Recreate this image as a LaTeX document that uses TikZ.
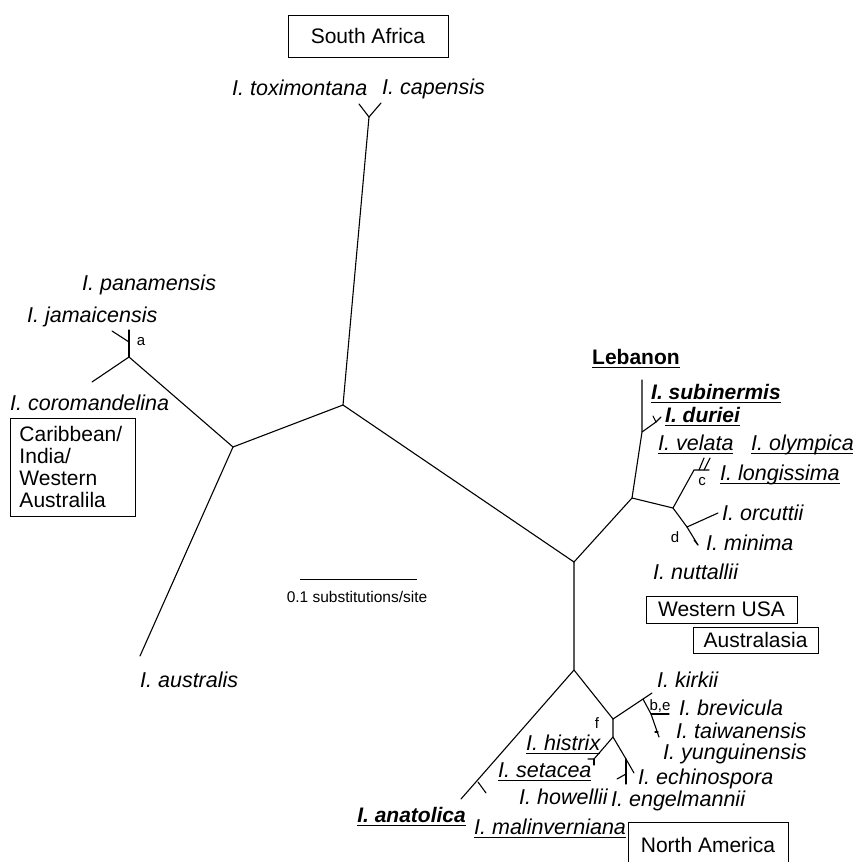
\documentclass[tikz,border=0pt]{standalone}
\usepackage{fontspec}
\setmainfont{Liberation Sans}
\newsavebox\ulbox
\newcommand\ulx[1]{\sbox\ulbox{#1}\rlap{\rule[-3.5pt]{\wd\ulbox}{0.9pt}}\usebox\ulbox}
\begin{document}
\begin{tikzpicture}[x=1pt,y=-1pt,
  br/.style={line width=1.1pt, line cap=round},
  lab/.style={anchor=base west, inner sep=0pt, font=\fontsize{21.5}{24}\selectfont\itshape},
  blab/.style={anchor=base west, inner sep=0pt, font=\fontsize{21}{24}\selectfont\bfseries\itshape},
  sm/.style={inner sep=0pt, font=\fontsize{15}{17}\selectfont},
  region/.style={draw, line width=1pt, inner sep=0pt, font=\fontsize{21}{21.7}\selectfont}]
\path[use as bounding box, clip] (0,0) rectangle (853,862);
\fill[white] (0,0) rectangle (853,862);

% ---------- tree coordinates ----------
\coordinate (C1) at (343,405);
\coordinate (Ysa) at (369,117);
\coordinate (tox) at (359,104);
\coordinate (cap) at (381,103);
\coordinate (L) at (233,447);
\coordinate (aus) at (140,656);
\coordinate (A) at (129,357);
\coordinate (cor) at (92,382);
\coordinate (pan) at (129,330);
\coordinate (jamj) at (129,342);
\coordinate (jam) at (112,331);
\coordinate (R) at (574,562);
\coordinate (Jleb) at (632,498);
\coordinate (Jleb2) at (642,432);
\coordinate (sub) at (642,380);
\coordinate (Jdur) at (656,422);
\coordinate (dur1) at (653,416);
\coordinate (dur2) at (661,417);
\coordinate (Jd) at (673,508);
\coordinate (Jc) at (694,470);
\coordinate (cbar) at (709,470);
\coordinate (vel1) at (699,470);
\coordinate (vel2) at (704,458);
\coordinate (oly1) at (704,470);
\coordinate (oly2) at (710,458);
\coordinate (Jorc) at (687,527);
\coordinate (orc) at (718,513);
\coordinate (min) at (698,545);
\coordinate (mint1) at (694,540);
\coordinate (B) at (574,670);
\coordinate (ana) at (461,799);
\coordinate (anat1) at (478,782);
\coordinate (anat2) at (486,793);
\coordinate (Nf) at (613,719);
\coordinate (K) at (643,699);
\coordinate (kir) at (652,693);
\coordinate (be) at (651,714);
\coordinate (bebar) at (669,714);
\coordinate (tai) at (659,737);
\coordinate (tait) at (655,732);
\coordinate (tait2) at (658,732);
\coordinate (N2) at (613,737);
\coordinate (set) at (594,759);
\coordinate (setbar) at (588,759);
\coordinate (setdn) at (594,765);
\coordinate (N3) at (626,759);
\coordinate (echi) at (634,773);
\coordinate (eng) at (626,784);
\coordinate (howj) at (626,774);
\coordinate (how) at (617,779);

% ---------- branches ----------
\draw[br] (tox) -- (Ysa) -- (cap);
\draw[br] (Ysa) -- (C1) -- (R);
\draw[br] (C1) -- (L) -- (aus);
\draw[br] (L) -- (A) -- (cor);
\draw[br] (A) -- (pan);
\draw[br] (jam) -- (jamj);
\draw[br] (R) -- (Jleb) -- (Jleb2) -- (sub);
\draw[br] (Jleb2) -- (Jdur) -- (dur1);
\draw[br] (Jdur) -- (dur2);
\draw[br] (Jleb) -- (Jd) -- (Jc) -- (cbar);
\draw[br] (vel1) -- (vel2);
\draw[br] (oly1) -- (oly2);
\draw[br] (Jd) -- (Jorc) -- (orc);
\draw[br] (Jorc) -- (min);
\draw[br] (mint1) -- (min);
\draw[br] (R) -- (B) -- (ana);
\draw[br] (anat1) -- (anat2);
\draw[br] (B) -- (Nf) -- (K) -- (kir);
\draw[br] (K) -- (be) -- (tai);
\draw[br] (be) -- (bebar);
\draw[br] (tait) -- (tait2);
\draw[br] (Nf) -- (N2) -- (set) -- (setbar);
\draw[br] (set) -- (setdn);
\draw[br] (N2) -- (N3) -- (echi);
\draw[br] (N3) -- (eng);
\draw[br] (howj) -- (how);

% ---------- scale bar ----------
\coordinate (sb1) at (300,579);
\coordinate (sb2) at (417,579);
\draw[line width=1pt] (sb1) -- (sb2);
\node[sm, font=\fontsize{15.5}{17}\selectfont] (sbl) at (357,597) {0.1 substitutions/site};

% ---------- small labels ----------
\node[sm] (la) at (141,342) {a};
\node[sm] (lc) at (702,482) {c};
\node[sm] (ld) at (675,537) {d};
\node[sm] (lf) at (597,723) {f};
\node[sm] (lbe) at (660,706) {b,e};

% ---------- taxon labels ----------
\node[lab] (t1) at (232,95) {I. toximontana};
\node[lab] (t2) at (382,94) {I. capensis};
\node[lab] (t3) at (82,290) {I. panamensis};
\node[lab] (t4) at (27,322) {I. jamaicensis};
\node[lab] (t5) at (10,410) {I. coromandelina};
\node[lab] (t6) at (140,687) {I. australis};
\node[anchor=base west, inner sep=0pt, font=\fontsize{21}{24}\selectfont\bfseries] (t7) at (592,364) {\ulx{Lebanon}};
\node[blab] (t8) at (651,399) {\ulx{I. subinermis}};
\node[blab] (t9) at (665,422) {\ulx{I. duriei}};
\node[lab] (t10) at (658,450) {\ulx{I. velata}};
\node[lab] (t11) at (751,450) {\ulx{I. olympica}};
\node[lab] (t12) at (720,480) {\ulx{I. longissima}};
\node[lab] (t13) at (722,520) {I. orcuttii};
\node[lab] (t14) at (706,550) {I. minima};
\node[lab] (t15) at (653,579) {I. nuttallii};
\node[lab] (t16) at (657,687) {I. kirkii};
\node[lab] (t17) at (679,715) {I. brevicula};
\node[lab] (t18) at (676,738) {I. taiwanensis};
\node[lab] (t19) at (663,759) {I. yunguinensis};
\node[lab] (t20) at (638,784) {I. echinospora};
\node[lab] (t21) at (611,806) {I. engelmannii};
\node[lab] (t22) at (519,804) {I. howellii};
\node[lab] (t23) at (526,750) {\ulx{I. histrix}};
\node[lab] (t24) at (498,777) {\ulx{I. setacea}};
\node[lab] (t25) at (474,834) {\ulx{I. malinverniana}};
\node[blab, anchor=base east] (t26) at (466,822) {\ulx{I. anatolica}};

% ---------- region boxes ----------
\node[region, minimum width=160pt, minimum height=42pt] (rSA) at (368,36) {South Africa};
\node[region, minimum width=125pt, minimum height=98pt, align=left, text width=106pt] (rCar) at (72.5,467) {Caribbean/\\India/\\Western\\Australila};
\node[region, minimum width=151pt, minimum height=27pt] (rWU) at (721.5,609.5) {Western USA};
\node[region, minimum width=125pt, minimum height=26pt] (rAu) at (755.5,640) {Australasia};
\node[region, minimum width=160pt, minimum height=46pt] (rNA) at (708,845) {North America};
\end{tikzpicture}
\end{document}
